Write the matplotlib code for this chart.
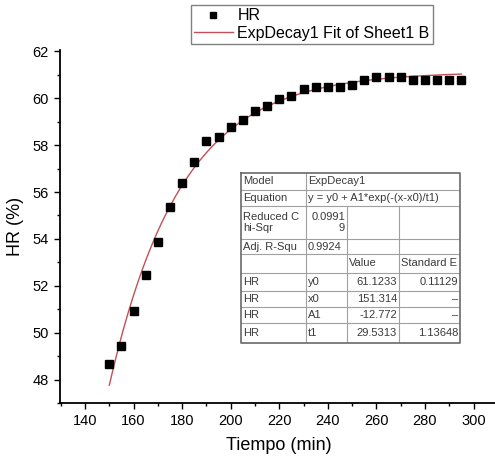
import numpy as np
import matplotlib
matplotlib.use("Agg")
import matplotlib.pyplot as plt
from matplotlib.ticker import MultipleLocator
from matplotlib.lines import Line2D

plt.rcParams['font.family'] = ['Liberation Sans', 'DejaVu Sans']

# ---- data ----
tiempo = [150, 155, 160, 165, 170, 175, 180, 185, 190, 195,
          200, 205, 210, 215, 220, 225, 230, 235, 240, 245,
          250, 255, 260, 265, 270, 275, 280, 285, 290, 295]
hr = [48.67, 49.46, 50.95, 52.46, 53.86, 55.36, 56.38, 57.26, 58.18, 58.36,
      58.76, 59.07, 59.47, 59.68, 59.98, 60.07, 60.38, 60.47, 60.48, 60.49,
      60.58, 60.78, 60.89, 60.89, 60.89, 60.78, 60.78, 60.78, 60.78, 60.78]

# fit parameters (ExpDecay1)
y0 = 61.1233
x0 = 151.314
A1 = -12.772
t1 = 29.5313

xticks = [140, 160, 180, 200, 220, 240, 260, 280, 300]
yticks = [48, 50, 52, 54, 56, 58, 60, 62]

table_rows = [
    ["Model", "ExpDecay1", None, None],
    ["Equation", "y = y0 + A1*exp(-(x-x0)/t1)", None, None],
    ["Reduced C\nhi-Sqr", "0.0991\n9", "", ""],
    ["Adj. R-Squ", "0.9924", "", ""],
    ["", "", "Value", "Standard E"],
    ["HR", "y0", "61.1233", "0.11129"],
    ["HR", "x0", "151.314", "\u2013"],
    ["HR", "A1", "-12.772", "\u2013"],
    ["HR", "t1", "29.5313", "1.13648"],
]

W, H = 495, 461
fig = plt.figure(figsize=(W / 100, H / 100), dpi=100)

def fx(px):
    return px / W

def fy(py):
    return 1 - py / H

# main axes
ax_left, ax_right, ax_top, ax_bot = 60, 497.8, 50, 403.3
ax = fig.add_axes([fx(ax_left), fy(ax_bot), fx(ax_right - ax_left), (ax_bot - ax_top) / H])
ax.set_xlim(129.7, 310)
ax.set_ylim(47.0, 62.05)

xf = np.linspace(min(tiempo), max(tiempo), 300)
yf = y0 + A1 * np.exp(-(xf - x0) / t1)
fit_line, = ax.plot(xf, yf, color='#c0505a', lw=1.0, zorder=2)
pts, = ax.plot(tiempo, hr, 's', color='black', ms=6.0, zorder=3, linestyle='none')

for s in ['top', 'right']:
    ax.spines[s].set_visible(False)
for s in ['left', 'bottom']:
    ax.spines[s].set_linewidth(1.3)
ax.set_xticks(xticks)
ax.set_yticks(yticks)
ax.xaxis.set_minor_locator(MultipleLocator(10))
ax.yaxis.set_minor_locator(MultipleLocator(1))
ax.tick_params(which='major', direction='out', length=4.5, width=1.0, labelsize=10.5)
ax.tick_params(which='minor', direction='out', length=2.5, width=1.0)
ax.set_xlabel("Tiempo (min)", fontsize=13, labelpad=6)
ax.set_ylabel("HR (%)", fontsize=13, labelpad=6)

# legend
leg = fig.legend([pts, fit_line], ["HR", "ExpDecay1 Fit of Sheet1 B"],
                 loc='upper left', bbox_to_anchor=(fx(191), fy(5)),
                 fontsize=11.5, frameon=True, fancybox=False, edgecolor='#808080',
                 framealpha=1, borderpad=0.2, handlelength=2.4, handletextpad=0.3,
                 labelspacing=0.15, borderaxespad=0)
leg.get_frame().set_linewidth(1.0)
for h in leg.legend_handles:
    if isinstance(h, Line2D):
        h.set_markersize(5)

# table (inset axes in pixel coordinates)
cols = [241, 306, 347, 399, 460]
rows = [173, 190, 206, 239, 254, 273, 291, 307, 323, 343]
tx = fig.add_axes([fx(cols[0]), fy(rows[-1]), fx(cols[-1] - cols[0]), (rows[-1] - rows[0]) / H])
tx.set_xlim(cols[0], cols[-1])
tx.set_ylim(rows[-1], rows[0])
tx.axis('off')
tx.patch.set_visible(False)
gc = '#a0a0a0'
for r in rows[1:-1]:
    tx.plot([cols[0], cols[-1]], [r, r], color=gc, lw=0.8)
tx.plot([cols[1], cols[1]], [rows[0], rows[-1]], color=gc, lw=0.8)
for c in cols[2:4]:
    tx.plot([c, c], [rows[2], rows[-1]], color=gc, lw=0.8)
tx.plot([cols[0], cols[-1], cols[-1], cols[0], cols[0]],
        [rows[0], rows[0], rows[-1], rows[-1], rows[0]], color='#6a6a6a', lw=1.2,
        clip_on=False)

fs = 8.0
tc = '#3a3a3a'
for i, row in enumerate(table_rows):
    ymid = (rows[i] + rows[i + 1]) / 2
    for j, txt in enumerate(row):
        if txt is None or txt == "":
            continue
        left = cols[j] + 2
        right = cols[j + 1] - 2
        if j == 0 or (j == 1 and i in (0, 1, 3)) or (j == 1 and i >= 5) or (i == 4):
            tx.text(left, ymid, txt, ha='left', va='center', fontsize=fs, color=tc,
                    linespacing=1.05, clip_on=False)
        else:
            tx.text(right, ymid, txt, ha='right', va='center', fontsize=fs, color=tc,
                    linespacing=1.05, multialignment='right', clip_on=False)

fig.savefig("out.png", dpi=100)
